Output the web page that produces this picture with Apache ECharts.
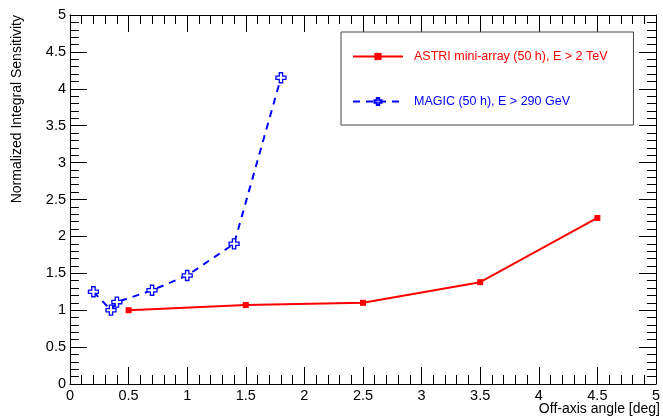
<!DOCTYPE html>
<html><head><meta charset="utf-8">
<script src="https://cdn.jsdelivr.net/npm/echarts@6/dist/echarts.min.js"></script>
<style>html,body{margin:0;padding:0;background:#fff}#c{width:663px;height:416px}</style>
</head><body><div id="c"></div>
<script>
const astriName = 'ASTRI mini-array (50 h), E > 2 TeV';
const astriX = [0.5, 1.5, 2.5, 3.5, 4.5];
const astriY = [1.0, 1.07, 1.10, 1.38, 2.25];
const magicName = 'MAGIC (50 h), E > 290 GeV';
const magicX = [0.2, 0.35, 0.4, 0.7, 1.0, 1.4, 1.8];
const magicY = [1.25, 1.0, 1.11, 1.27, 1.47, 1.9, 4.15];
const xTitle = 'Off-axis angle [deg]';
const yTitle = 'Normalized Integral Sensitivity';

const FONT = 'Liberation Sans';
const plus = 'path://M1,0H2V1H3V2H2V3H1V2H0V1H1Z';
function axisBase(pos, showLabel) {
  return {
    type: 'value', min: 0, max: 5, interval: 0.5, position: pos,
    axisLine: {show: true, onZero: false, lineStyle: {color: '#000', width: 1}},
    axisTick: {show: true, inside: true, length: 17, lineStyle: {color: '#000'}},
    minorTick: {show: true, splitNumber: 5, length: 9, lineStyle: {color: '#000'}},
    splitLine: {show: false},
    axisLabel: {show: showLabel, color: '#000', fontFamily: FONT, fontSize: 14.5, margin: 4},
  };
}
const chart = echarts.init(document.getElementById('c'), null, {renderer: 'canvas'});
chart.setOption({
  animation: false,
  backgroundColor: '#fff',
  grid: {left: 70, right: 3, top: 15, bottom: 32, containLabel: false},
  xAxis: [axisBase('bottom', true), axisBase('top', false)],
  yAxis: [axisBase('left', true), axisBase('right', false)],
  legend: {
    left: 341, top: 32, orient: 'vertical',
    borderColor: '#444', borderWidth: 1,
    padding: [18, 26, 17, 11], itemGap: 32,
    itemWidth: 50, itemHeight: 9,
    textStyle: {fontFamily: FONT, fontSize: 12.5, padding: [0, 0, 0, 6]},
    data: [
      {name: astriName, textStyle: {color: '#ff0000'}},
      {name: magicName, textStyle: {color: '#0000ff'}}
    ]
  },
  series: [
    {
      name: astriName, type: 'line', xAxisIndex: 0, yAxisIndex: 0,
      data: astriX.map((x, i) => [x, astriY[i]]),
      symbol: 'rect', symbolSize: 6,
      itemStyle: {color: '#ff0000'},
      lineStyle: {color: '#ff0000', width: 2}
    },
    {
      name: magicName, type: 'line', xAxisIndex: 0, yAxisIndex: 0,
      data: magicX.map((x, i) => [x, magicY[i]]),
      symbol: plus, symbolSize: 10,
      itemStyle: {color: '#fff', borderColor: '#0000ff', borderWidth: 1.3},
      lineStyle: {color: '#0000ff', width: 2, type: [7, 6]}
    }
  ],
  graphic: [
    {type: 'text', x: 660, y: 409, style: {text: xTitle, font: '14px "' + FONT + '"', fill: '#000', textAlign: 'right', textVerticalAlign: 'middle'}},
    {type: 'text', x: 17, y: 15, rotation: Math.PI / 2, style: {text: yTitle, font: '14px "' + FONT + '"', fill: '#000', textAlign: 'right', textVerticalAlign: 'middle'}}
  ]
});
</script></body></html>
